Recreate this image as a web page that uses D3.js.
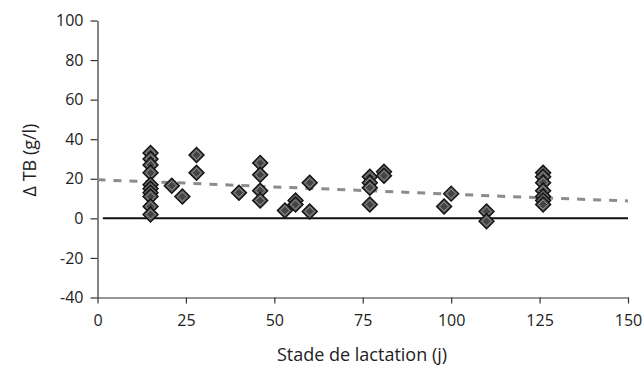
<!DOCTYPE html>
<html>
<head>
<meta charset="utf-8">
<script src="https://cdn.jsdelivr.net/npm/d3@7"></script>
<style>
  body { margin: 0; background: #fff; }
  text { font-family: "Open Sans", sans-serif; fill: #222; }
</style>
</head>
<body>
<script>
var width = 643;
var height = 365;

// observations : stade de lactation (j) and delta TB (g/l)
var days = [15, 15, 15, 15, 15, 15, 15, 15, 15, 15,
            21, 24, 28, 28, 40, 46, 46, 46, 46,
            53, 56, 56, 60, 60, 77, 77, 77, 77, 81, 81,
            98, 100, 110, 110,
            126, 126, 126, 126, 126, 126, 126];
var deltaTB = [33, 30, 27, 23, 17, 15, 13, 11, 6, 2,
               16.5, 11, 32, 23, 13, 28, 22, 14, 9,
               4, 9, 7, 18, 3.5, 21, 18, 15.5, 7, 23.5, 21.5,
               6, 12.5, 3.5, -1.5,
               23, 21, 18, 14, 11, 9, 7];

// trend line
var trendDays = [0, 25, 50, 75, 100, 125, 150];
var trendValues = [19.5, 17.8, 15.9, 14.1, 12.2, 10.4, 8.8];

var xTicks = [0, 25, 50, 75, 100, 125, 150];
var yTicks = [-40, -20, 0, 20, 40, 60, 80, 100];

var points = days.map(function(d, i) { return {day: d, value: deltaTB[i]}; });
var trend = trendDays.map(function(d, i) { return {day: d, value: trendValues[i]}; });

var svg = d3.select("body").append("svg")
    .attr("width", width)
    .attr("height", height);

var xScale = d3.scaleLinear()
    .domain([0, 150])
    .range([97.5, 628]);

var yScale = d3.scaleLinear()
    .domain([-40, 100])
    .range([297.5, 20.5]);

// zero line
svg.append("line")
    .attr("x1", xScale(1.5))
    .attr("x2", xScale(150))
    .attr("y1", yScale(0))
    .attr("y2", yScale(0))
    .attr("stroke", "#111")
    .attr("stroke-width", 2);

// axes
var xAxis = svg.append("g")
    .attr("transform", "translate(0," + yScale(-40) + ")")
    .call(d3.axisBottom(xScale).tickValues(xTicks).tickSize(6).tickSizeOuter(0).tickPadding(11));

var yAxis = svg.append("g")
    .attr("transform", "translate(" + xScale(0) + ",0)")
    .call(d3.axisLeft(yScale).tickValues(yTicks).tickSize(7).tickSizeOuter(0).tickPadding(7)
        .tickFormat(function(d) { return String(d); }));

[xAxis, yAxis].forEach(function(a) {
    a.select(".domain").attr("stroke", "#333").attr("stroke-width", 1.2);
    a.selectAll(".tick line").attr("stroke", "#333").attr("stroke-width", 1.2);
    a.selectAll(".tick text")
        .style("font-family", "'Open Sans', sans-serif")
        .style("font-size", "16px")
        .attr("fill", "#222");
});

// trend line
var line = d3.line()
    .x(function(d) { return xScale(d.day); })
    .y(function(d) { return yScale(d.value); });

svg.append("path")
    .datum(trend)
    .attr("d", line)
    .attr("fill", "none")
    .attr("stroke", "#8c8c8c")
    .attr("stroke-width", 3)
    .attr("stroke-dasharray", "8,8");

// diamonds
var diamond = "M0,-7.5L7.5,0L0,7.5L-7.5,0Z";
var inner = "M0,-4.5L4.5,0L0,4.5L-4.5,0Z";

var marks = svg.selectAll(".pt")
    .data(points)
    .enter().append("g")
    .attr("class", "pt")
    .attr("transform", function(d) {
        return "translate(" + xScale(d.day) + "," + yScale(d.value) + ")";
    });

marks.append("path")
    .attr("d", diamond)
    .attr("fill", "#5e5e5e")
    .attr("stroke", "#111")
    .attr("stroke-width", 1.4);

marks.append("path")
    .attr("d", inner)
    .attr("fill", "#444")
    .attr("stroke", "#999")
    .attr("stroke-width", 0.8);

// axis titles
svg.append("text")
    .attr("x", 362)
    .attr("y", 361)
    .attr("text-anchor", "middle")
    .style("font-size", "18px")
    .text("Stade de lactation (j)");

svg.append("text")
    .attr("transform", "translate(36,160) rotate(-90)")
    .attr("text-anchor", "middle")
    .style("font-size", "18px")
    .text("\u0394 TB (g/l)");
</script>
</body>
</html>
